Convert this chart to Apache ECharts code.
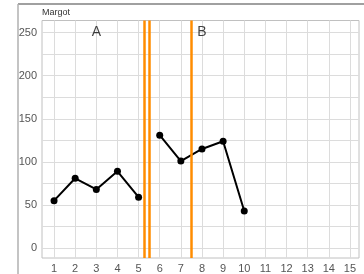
<!DOCTYPE html>
<html><head><meta charset="utf-8">
<script src="https://cdn.jsdelivr.net/npm/echarts@6/dist/echarts.min.js"></script>
<style>html,body{margin:0;padding:0;background:#fff}#c{width:364px;height:274px}</style>
</head><body><div id="c"></div>
<script>
const title = 'Margot';
const sessionsA = [1, 2, 3, 4, 5];
const valuesA = [55, 81, 68, 89, 59];
const sessionsB = [6, 7, 8, 9, 10];
const valuesB = [131, 101, 115, 124, 43];
const phaseLines = [5.25, 5.5, 7.5];
const phaseNames = ['A', 'B'];
const phaseLabelX = [3, 8];
const phaseLabelY = 250;
const xTicks = [1,2,3,4,5,6,7,8,9,10,11,12,13,14,15];
const yTicks = [0,25,50,75,100,125,150,175,200,225,250];
const yLabels = [0,50,100,150,200,250];

const chart = echarts.init(document.getElementById('c'), null, {renderer:'canvas'});
const font = 'Liberation Sans, Arial, sans-serif';
chart.setOption({
  animation: false,
  textStyle: {fontFamily: font},
  graphic: [
    {type:'line', shape:{x1:18,y1:4,x2:364,y2:4}, style:{stroke:'#808080', lineWidth:1.5}},
    {type:'line', shape:{x1:18,y1:4,x2:18,y2:274}, style:{stroke:'#b0b0b0', lineWidth:1.5}},
    {type:'text', left:42, top:8, style:{text:title, fontSize:9, fill:'#333', fontFamily:font}}
  ],
  grid: {left:42, top:20.5, right:5, bottom:10.5, show:true, borderColor:'#c0c0c0', borderWidth:1, containLabel:false},
  xAxis: {
    type:'value', min:0.43, max:15.43,
    axisLine:{show:false},
    axisTick:{show:false, customValues:xTicks},
    axisLabel:{customValues:xTicks, color:'#555', fontSize:11, margin:5, showMinLabel:true, showMaxLabel:true},
    splitLine:{show:true, lineStyle:{color:'#dcdcdc', width:1}}
  },
  yAxis: {
    type:'value', min:-11.5, max:264,
    axisLine:{show:false},
    axisTick:{show:false, customValues:yTicks},
    axisLabel:{customValues:yLabels, color:'#555', fontSize:11, margin:5},
    splitLine:{show:true, lineStyle:{color:'#dcdcdc', width:1}}
  },
  series: [
    {type:'line', data: sessionsA.map((x,i)=>[x, valuesA[i]]), symbol:'circle', symbolSize:7,
     lineStyle:{color:'#000', width:2}, itemStyle:{color:'#000'},
     markLine:{silent:true, symbol:'none', label:{show:false},
       lineStyle:{color:'#ff8c00', width:2.5, type:'solid'},
       data: phaseLines.map(v=>({xAxis:v}))}},
    {type:'line', data: sessionsB.map((x,i)=>[x, valuesB[i]]), symbol:'circle', symbolSize:7,
     lineStyle:{color:'#000', width:2}, itemStyle:{color:'#000'}},
    {type:'scatter', data: phaseLabelX.map((x,i)=>({value:[x, phaseLabelY], name:phaseNames[i]})),
     symbolSize:0, label:{show:true, position:'inside', formatter:'{b}', fontSize:14, color:'#111'}}
  ]
});
</script></body></html>
